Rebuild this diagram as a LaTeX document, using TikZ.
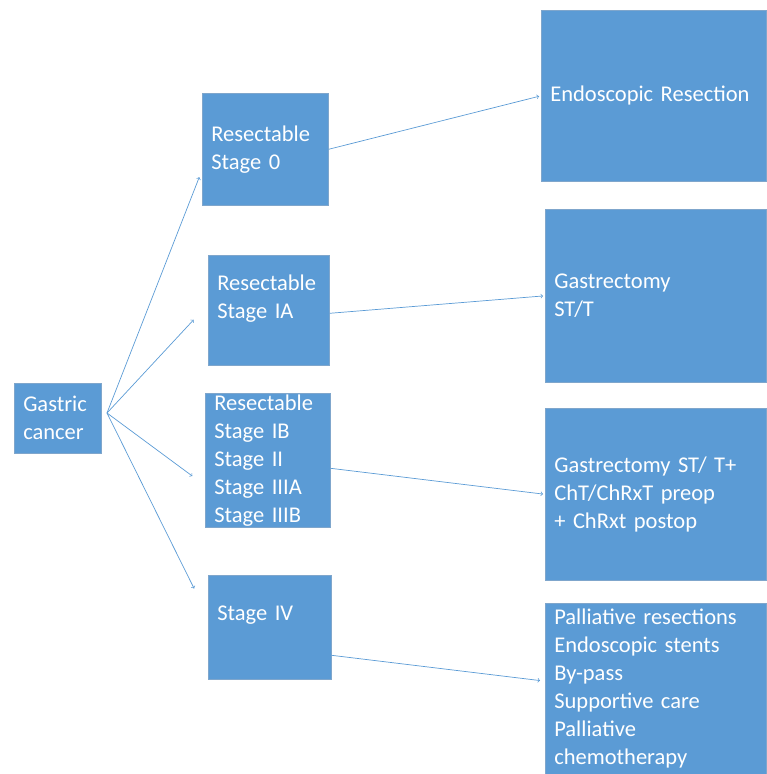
\documentclass[tikz,border=0pt]{standalone}
\usepackage{fontspec}
\setmainfont{Carlito}
\definecolor{boxfill}{HTML}{5B9BD5}
\definecolor{boxline}{HTML}{7FA6CC}

\begin{document}
\begin{tikzpicture}[x=1pt,y=-1pt,
    stagebox/.style={draw=boxline,line width=0.6pt,fill=boxfill,text=white,align=left,anchor=north west,
        inner xsep=9pt,inner ysep=0pt,font=\fontsize{22.5}{28}\selectfont},
    link/.style={->,draw=boxfill,line width=0.7pt,shorten >=2pt}]
        \useasboundingbox (0,0) rectangle (766,774);

        \node[stagebox,minimum width=87pt,minimum height=70pt,text width=69pt](gc) at (14,383){Gastric\\cancer};

        \node[stagebox,minimum width=126pt,minimum height=112pt,text width=108pt](s0) at (202,93){Resectable\\Stage 0};
        \node[stagebox,minimum width=121pt,minimum height=110pt,text width=103pt](s1) at (208,255){Resectable\\Stage IA\\\mbox{}};
        \node[stagebox,minimum width=125pt,minimum height=134pt,text width=107pt](s2) at (205,393){Resectable\\Stage IB\\Stage II\\Stage IIIA\\Stage IIIB};
        \node[stagebox,minimum width=123pt,minimum height=104pt,text width=105pt](s4) at (208,575){Stage IV\\\mbox{}};

        \node[stagebox,minimum width=225pt,minimum height=171pt,text width=207pt](t0) at (541,10){Endoscopic Resection};
        \node[stagebox,minimum width=221pt,minimum height=173pt,text width=203pt](t1) at (545,209){Gastrectomy\\ST/T};
        \node[stagebox,minimum width=221pt,minimum height=172pt,text width=203pt](t2) at (545,408){Gastrectomy ST/ T+\\ChT/ChRxT preop\\+ ChRxt postop};
        \node[stagebox,minimum width=221pt,minimum height=171pt,text width=203pt](t3) at (545,603){Palliative resections\\Endoscopic stents\\By-pass\\Supportive care\\Palliative\\chemotherapy};

        \coordinate (fork) at (107,413);
        \draw[link](fork)--([shift={(-2,26)}]s0.west);
        \draw[link](fork)--([shift={(-13,8)}]s1.west);
        \draw[link](fork)--([shift={(-11,17)}]s2.west);
        \draw[link](fork)--([shift={(-13,-37)}]s4.west);

        \draw[link](s0.east)--(t0.west);
        \draw[link]([yshift=-3pt]s1.east)--(t1.west);
        \draw[link]([yshift=-8pt]s2.east)--(t2.west);
        \draw[link]([yshift=-28pt]s4.east)--([shift={(-3,-8)}]t3.west);
    \end{tikzpicture}
\end{document}
